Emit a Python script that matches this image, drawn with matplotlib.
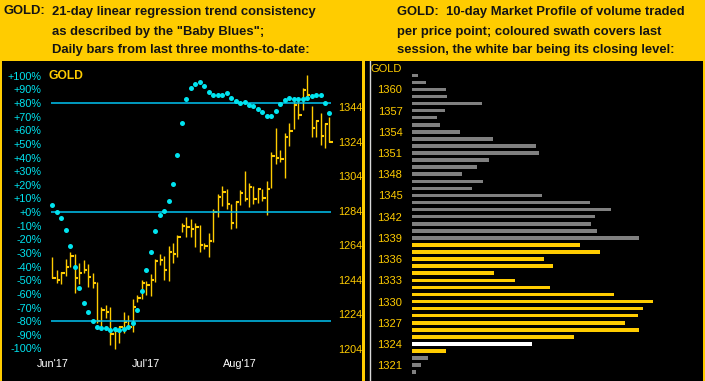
import matplotlib.pyplot as plt

plt.rcParams['font.family'] = ['Liberation Sans', 'DejaVu Sans']

# daily bars, gold price (high / low / close), Jun'17 .. Aug'17
highs = [1257.4, 1249.7, 1248.4, 1256.1, 1259.9, 1259.0, 1253.6, 1255.5, 1253.2, 1247.8,
         1242.8, 1228.5, 1229.3, 1228.5, 1216.6, 1217.3, 1225.4, 1223.7, 1232.8, 1235.2,
         1243.9, 1243.3, 1247.2, 1255.9, 1258.8, 1257.8, 1263.6, 1265.2, 1269.8, 1277.1,
         1280.2, 1279.0, 1276.7, 1275.7, 1265.5, 1270.9, 1284.8, 1293.5, 1298.3, 1296.4,
         1287.9, 1289.6, 1296.0, 1307.0, 1299.9, 1298.5, 1297.0, 1296.6, 1301.2, 1317.8,
         1331.7, 1319.1, 1328.8, 1334.6, 1349.4, 1348.1, 1355.2, 1362.5, 1344.8, 1336.5,
         1340.4, 1334.6, 1338.4]
lows = [1245.1, 1242.4, 1241.6, 1246.4, 1251.6, 1236.6, 1241.4, 1247.8, 1240.0, 1239.5,
        1218.9, 1216.9, 1221.9, 1206.3, 1204.2, 1207.7, 1213.1, 1215.4, 1214.0, 1231.4,
        1232.8, 1235.2, 1234.8, 1242.9, 1252.6, 1243.9, 1243.5, 1253.9, 1257.4, 1271.9,
        1268.6, 1269.0, 1263.2, 1260.3, 1261.7, 1257.4, 1266.1, 1280.5, 1286.7, 1284.8,
        1273.3, 1273.8, 1287.3, 1289.6, 1286.3, 1287.7, 1288.3, 1289.6, 1281.5, 1297.3,
        1310.9, 1312.4, 1302.8, 1321.6, 1331.3, 1336.9, 1342.3, 1348.1, 1326.8, 1326.8,
        1322.0, 1320.1, 1323.6]
closes = [1245.3, 1243.9, 1247.8, 1251.6, 1258.0, 1245.3, 1247.8, 1249.7, 1245.8, 1242.0,
          1220.2, 1226.6, 1225.2, 1212.5, 1214.4, 1216.9, 1219.8, 1216.9, 1228.5, 1233.3,
          1242.4, 1241.3, 1243.9, 1255.1, 1255.5, 1249.7, 1260.3, 1259.0, 1269.0, 1275.2,
          1274.8, 1273.3, 1274.8, 1264.2, 1263.6, 1266.7, 1283.4, 1292.1, 1295.0, 1287.9,
          1277.1, 1289.2, 1294.1, 1290.6, 1297.9, 1290.6, 1296.6, 1291.5, 1296.6, 1315.8,
          1314.7, 1313.9, 1326.8, 1330.1, 1345.2, 1339.4, 1353.8, 1350.9, 1332.0, 1335.9,
          1327.4, 1334.0, 1323.9]

# 21-day linear regression trend consistency ("Baby Blues"), percent
baby_blues = [5.4, 0.0, -4.0, -13.0, -24.5, -40.6, -55.3, -66.3, -72.9, -79.5,
              -84.6, -85.3, -85.3, -86.8, -85.8, -86.3, -85.8, -84.6, -81.4, -72.0,
              -57.5, -42.3, -29.6, -14.2, -2.0, 1.0, 7.8, 20.7, 42.0, 65.0,
              83.1, 91.1, 94.1, 95.5, 92.8, 87.7, 86.2, 86.2, 86.2, 87.0,
              83.9, 81.1, 80.3, 80.4, 78.7, 77.9, 75.7, 73.5, 70.1, 70.6,
              74.3, 78.9, 82.3, 84.0, 83.1, 82.6, 83.1, 83.3, 84.8, 86.2,
              85.5, 79.9, 73.0]

month_labels = ["Jun'17", "Jul'17", "Aug'17"]
month_bar = [0, 21, 42]
pct_ticks = [100, 90, 80, 70, 60, 50, 40, 30, 20, 10, 0,
             -10, -20, -30, -40, -50, -60, -70, -80, -90, -100]
price_ticks = [1204, 1224, 1244, 1264, 1284, 1304, 1324, 1344]
bands = [80, 0, -80]

# 10-day market profile
profile_levels = [1362, 1361, 1360, 1359, 1358, 1357, 1356, 1355, 1354, 1353,
                  1352, 1351, 1350, 1349, 1348, 1347, 1346, 1345, 1344, 1343,
                  1342, 1341, 1340, 1339, 1338, 1337, 1336, 1335, 1334, 1333,
                  1332, 1331, 1330, 1329, 1328, 1327, 1326, 1325, 1324, 1323,
                  1322, 1321, 1320]
profile_volume = [6, 14, 34, 35, 70, 33, 25, 28, 48, 81,
                  124, 127, 77, 65, 50, 71, 60, 130, 178, 199,
                  183, 179, 185, 227, 168, 188, 132, 141, 82, 103,
                  138, 202, 241, 231, 226, 213, 227, 162, 120, 34,
                  16, 9, 4]
session_low, session_high, session_close = 1323, 1338, 1324
profile_ticks = [1360, 1357, 1354, 1351, 1348, 1345, 1342, 1339, 1336, 1333,
                 1330, 1327, 1324, 1321]

GOLD = '#FFCC00'
CYAN = '#00E4F0'
LINE = '#00C4F4'
W, H = 705, 381

fig = plt.figure(figsize=(W / 100, H / 100), dpi=100, facecolor=GOLD)

# ---- left panel: bars + baby blues
ax = fig.add_axes([2 / W, 0, 360 / W, 320 / H])
ax.set_facecolor('black')
idx = list(range(len(closes)))
ax.vlines(idx, lows, highs, color=GOLD, lw=1.0)
ax.hlines(closes, idx, [i + 0.75 for i in idx], color=GOLD, lw=1.5)
ax.set_xlim(-11.25, 69.28)
ax.set_ylim(1185.5, 1370.6)
ax.set_xticks(month_bar)
ax.set_xticklabels(month_labels)
ax.tick_params(axis='x', length=0, pad=-15.8, labelcolor='white', labelsize=7.8)
for s in ax.spines.values():
    s.set_visible(False)

axp = ax.twinx()
axp.set_ylim(-123.83, 110.78)
axp.hlines(bands, -0.4, 62.3, color=LINE, lw=1.1)
axp.plot(idx, baby_blues, 'o', color=CYAN, ms=3.6, mec='none')
axp.text(-0.95, 100, 'GOLD', color=GOLD, fontsize=8.7, fontweight='bold',
         ha='left', va='center')
for s in axp.spines.values():
    s.set_visible(False)

# price labels on the right, percent labels on the left (both inside the panel)
ax.yaxis.tick_right()
ax.set_yticks(price_ticks)
ax.set_yticklabels([str(p) for p in price_ticks])
ax.tick_params(axis='y', which='both', left=False, right=True, labelleft=False,
               labelright=True, length=0, pad=-17.3, labelcolor=GOLD, labelsize=7.8)
for lab in ax.get_yticklabels(which='both'):
    lab.set_horizontalalignment('left')

axp.yaxis.tick_left()
axp.set_yticks(pct_ticks)
axp.set_yticklabels(['%+d%%' % v if v != 0 else '+0%' for v in pct_ticks])
axp.tick_params(axis='y', left=True, right=False, labelleft=True, labelright=False,
                length=0, pad=-28.4, labelcolor=CYAN, labelsize=7.8)
for lab in axp.get_yticklabels():
    lab.set_horizontalalignment('right')

# ---- right panel: market profile
axm = fig.add_axes([365 / W, 0, 338 / W, 320 / H])
axm.set_facecolor('black')
colors = []
for lv in profile_levels:
    if lv == session_close:
        colors.append('white')
    elif session_low <= lv <= session_high:
        colors.append(GOLD)
    else:
        colors.append('#808080')
axm.barh(profile_levels, profile_volume, height=0.5, color=colors)
axm.set_xlim(-47, 291)
axm.set_ylim(1318.76, 1364.02)
axm.axvline(-42.3, color='#d8d8d8', lw=1.0)
axm.set_xticks([])
axm.set_yticks([1363] + profile_ticks)
axm.set_yticklabels(['GOLD'] + [str(t) for t in profile_ticks])
axm.tick_params(axis='y', length=0, pad=-26.9, labelcolor=GOLD, labelsize=8)
for s in axm.spines.values():
    s.set_visible(False)

# ---- header
hdr = dict(fontsize=9.4, fontweight='bold', color='#141414', va='baseline')
base = [14.5, 34.5, 53.5]
fig.text(4 / W, 1 - base[0] / H, 'GOLD:', **hdr)
left_lines = ['21-day linear regression trend consistency',
              'as described by the "Baby Blues";',
              'Daily bars from last three months-to-date:']
for b, t in zip(base, left_lines):
    fig.text(52 / W, 1 - b / H, t, **hdr)
right_lines = ['GOLD:  10-day Market Profile of volume traded',
               'per price point; coloured swath covers last',
               'session, the white bar being its closing level:']
for b, t in zip(base, right_lines):
    fig.text(397 / W, 1 - b / H, t, **hdr)

fig.savefig('out.png', dpi=100, facecolor=fig.get_facecolor())
